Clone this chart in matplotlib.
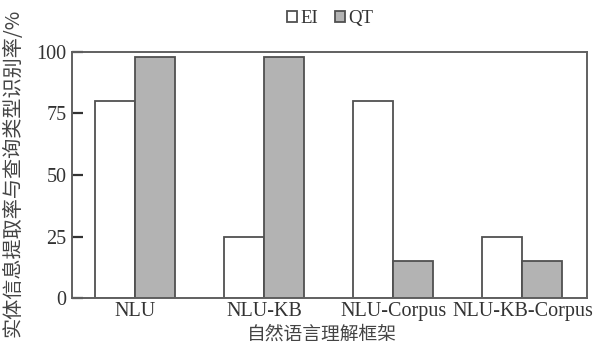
import matplotlib
matplotlib.use("Agg")
import matplotlib.pyplot as plt
import numpy as np

categories = ["NLU", "NLU-KB", "NLU-Corpus", "NLU-KB-Corpus"]
ei_values = [80, 25, 80, 25]
qt_values = [98, 98, 15, 15]
series_names = ["EI", "QT"]
yticks = [0, 25, 50, 75, 100]

plt.rcParams['font.family'] = ['Liberation Serif', 'Noto Sans CJK SC']

fig = plt.figure(figsize=(5.98, 3.45), dpi=100)
ax = fig.add_axes([0.1204, 0.1362, 0.8612, 0.7131])

x = np.arange(len(categories))
w = 0.31
edge = '#505050'
ax.bar(x - w/2, ei_values, w, color='white', edgecolor=edge, linewidth=1.3, label=series_names[0])
ax.bar(x + w/2, qt_values, w, color='#b3b3b3', edgecolor=edge, linewidth=1.3, label=series_names[1])

ax.set_xlim(-0.49, 3.5)
ax.set_ylim(0, 100)
ax.set_yticks(yticks)
ax.set_yticklabels([str(v) for v in yticks], fontsize=14.5, color='#333333')
ax.set_xticks(x)
ax.set_xticklabels(categories, fontsize=14.5, color='#333333')
ax.tick_params(axis='y', direction='in', length=8, width=1.6, color='#333333', pad=4)
ax.tick_params(axis='x', length=0, pad=3)
for s in ax.spines.values():
    s.set_color('#606060')
    s.set_linewidth(1.4)

ax.set_ylabel('实体信息提取率与查询类型识别率/%', fontsize=14.5, color='#444444',
              family=['Noto Sans CJK SC', 'Liberation Serif'])
ax.set_xlabel('自然语言理解框架', fontsize=13.5, color='#444444',
              family=['Noto Sans CJK SC', 'Liberation Serif'])
ax.yaxis.set_label_coords(-0.095, 0.51)
ax.xaxis.set_label_coords(0.485, -0.105)

leg = fig.legend(loc='center', bbox_to_anchor=(0.552, 0.945), ncol=2, frameon=False,
                 fontsize=13.5, handlelength=0.55, handleheight=0.55, handletextpad=0.15,
                 columnspacing=0.9)
for t in leg.get_texts():
    t.set_color('#333333')

fig.savefig('out.png', dpi=100)
